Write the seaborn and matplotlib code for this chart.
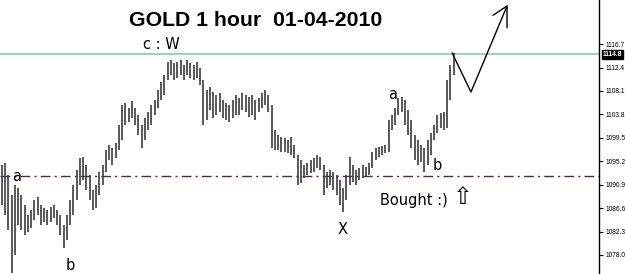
import numpy as np
import pandas as pd
import matplotlib
matplotlib.use("Agg")
import matplotlib.pyplot as plt
import seaborn as sns

# ---- data (hourly bars) ----
highs = [1094.5, 1094.9, 1092.7, 1089.0, 1090.9, 1090.3, 1089.0, 1087.2, 1085.4, 1086.3,
         1088.1, 1088.7, 1087.2, 1086.6, 1086.3, 1086.8, 1087.2, 1086.3, 1085.4, 1083.5,
         1085.4, 1088.1, 1090.9, 1093.6, 1095.8, 1096.0, 1094.5, 1092.7, 1090.0, 1090.9,
         1093.2, 1094.5, 1097.3, 1098.2, 1097.6, 1098.6, 1101.9, 1105.5, 1105.9, 1105.0,
         1106.3, 1105.0, 1103.7, 1101.9, 1103.1, 1104.2, 1105.5, 1106.5, 1108.3, 1109.8,
         1111.0, 1113.4, 1113.8, 1113.2, 1113.4, 1113.8, 1112.9, 1113.8, 1113.2, 1112.9,
         1113.4, 1112.3, 1110.1, 1108.3, 1108.8, 1107.9, 1107.4, 1107.7, 1106.5, 1105.9,
         1105.5, 1106.5, 1107.4, 1106.8, 1107.7, 1107.4, 1107.0, 1107.4, 1106.5, 1106.8,
         1107.7, 1108.3, 1107.4, 1105.5, 1100.9, 1100.0, 1099.7, 1099.5, 1099.1, 1099.7,
         1098.2, 1096.4, 1095.4, 1094.5, 1094.9, 1095.4, 1095.8, 1096.4, 1096.0, 1094.5,
         1093.2, 1093.6, 1093.2, 1092.7, 1091.8, 1090.3, 1092.7, 1096.0, 1094.5, 1093.6,
         1094.0, 1094.5, 1094.2, 1094.9, 1096.9, 1097.6, 1097.8, 1098.0, 1098.2, 1102.8,
         1103.7, 1105.0, 1106.8, 1107.0, 1106.5, 1104.6, 1102.8, 1100.0, 1099.1, 1098.2,
         1097.6, 1099.1, 1100.4, 1101.9, 1103.7, 1104.1, 1104.2, 1110.1, 1112.9, 1115.1]
lows = [1087.2, 1085.4, 1082.6, 1074.7, 1078.0, 1083.5, 1082.6, 1081.7, 1082.2, 1083.0,
        1084.4, 1085.4, 1083.5, 1084.1, 1083.5, 1084.1, 1084.8, 1083.5, 1081.7, 1079.3,
        1080.8, 1083.5, 1085.4, 1088.1, 1090.9, 1091.8, 1090.0, 1088.1, 1086.3, 1086.6,
        1089.0, 1090.9, 1093.2, 1095.4, 1094.5, 1095.8, 1097.3, 1099.1, 1101.9, 1102.4,
        1103.1, 1101.9, 1100.0, 1097.6, 1099.1, 1100.9, 1101.9, 1103.7, 1105.0, 1106.5,
        1107.4, 1110.1, 1111.0, 1110.1, 1110.5, 1111.0, 1110.1, 1111.0, 1110.5, 1110.1,
        1110.5, 1109.2, 1101.9, 1102.8, 1104.6, 1103.1, 1103.7, 1104.2, 1103.1, 1102.8,
        1102.4, 1103.1, 1103.7, 1103.7, 1104.6, 1104.2, 1103.3, 1103.7, 1102.8, 1104.2,
        1105.0, 1105.5, 1104.2, 1097.6, 1097.3, 1097.3, 1096.9, 1096.9, 1096.7, 1096.4,
        1095.8, 1090.9, 1091.2, 1092.1, 1092.7, 1093.1, 1093.2, 1094.0, 1093.6, 1089.0,
        1090.3, 1090.9, 1090.0, 1089.0, 1087.2, 1085.9, 1088.1, 1090.9, 1091.4, 1090.9,
        1091.8, 1092.1, 1092.3, 1092.7, 1094.0, 1095.4, 1096.0, 1096.4, 1096.7, 1096.9,
        1100.9, 1101.9, 1103.7, 1104.2, 1101.9, 1100.0, 1097.6, 1095.4, 1094.5, 1095.1,
        1093.2, 1094.5, 1096.4, 1099.1, 1100.4, 1101.3, 1100.9, 1101.3, 1106.5, 1111.0]

resistance = 1114.8
bought_level = 1092.5
tick_values = [1116.7, 1112.4, 1108.1, 1103.8, 1099.5, 1095.2, 1090.9, 1086.6, 1082.3, 1078.0]
tick_labels = ["1116.7", "1112.4", "1108.1", "1103.8", "1099.5", "1095.2", "1090.9",
               "1086.6", "1082.3", "1078.0"]

# hand-drawn projection path (bar index, price)
proj_x = [138.5, 144.3, 155.4]
proj_y = [1115.1, 1107.9, 1123.7]
arrow_x = [151.1, 155.4, 155.4]
arrow_y = [1122.0, 1123.7, 1119.7]

df = pd.DataFrame({"bar": np.arange(len(highs)), "high": highs, "low": lows})

# ---- figure ----
sns.set_theme(style="white")
plt.rcParams["font.family"] = ["DejaVu Sans"]
plt.rcParams["text.color"] = "black"

fig = plt.figure(figsize=(6.25, 2.74), dpi=100)
ax = fig.add_axes([0, 0, 599 / 625, 1])

ax.vlines(df["bar"], df["low"], df["high"], color="#3c3c3c", linewidth=1.2)

ax.axhline(resistance, color="#86c9b9", linewidth=1.2, zorder=1)
ax.axhline(bought_level, color="#4b2660", linewidth=1.0,
           linestyle=(0, (7, 3, 1.5, 3)), zorder=1)

ax.plot(proj_x, proj_y, color="black", linewidth=1.0)
ax.plot(arrow_x, arrow_y, color="black", linewidth=1.0)

ax.set_xlim(-0.6, 183.7)
ax.set_ylim(1074.5, 1124.8)

for s in ["left", "top", "bottom"]:
    ax.spines[s].set_visible(False)
ax.spines["right"].set_color("black")
ax.spines["right"].set_linewidth(1.0)
ax.set_xticks([])
ax.yaxis.tick_right()
ax.set_yticks(tick_values)
ax.set_yticklabels(tick_labels, family="Liberation Sans")
ax.tick_params(axis="y", direction="out", length=3, width=0.8, colors="black",
               labelsize=4.8, pad=1.5, right=True)

# highlighted current price label
ax.text(1.006, resistance, "1114.8", transform=ax.get_yaxis_transform(),
        fontsize=4.8, family="Liberation Sans", fontweight="bold", color="white",
        va="center", ha="left", clip_on=False,
        bbox=dict(boxstyle="square,pad=0.15", fc="black", ec="black"))

# annotations
lab = dict(fontsize=10.5, color="black", ha="center", va="center")
ax.text(4.6, 1092.4, "a", **lab)
ax.text(20.9, 1076.0, "b", **lab)
ax.text(49.2, 1116.6, "c : W", **lab)
ax.text(104.9, 1082.6, "X", **lab)
ax.text(120.3, 1107.4, "a", **lab)
ax.text(133.8, 1094.5, "b", **lab)
ax.text(116.3, 1088.0, "Bought :)", fontsize=10.5, color="black", ha="left", va="center")
ax.text(141.8, 1088.6, "\u21e7", fontsize=17, color="black", ha="center", va="center")

fig.text(256 / 625, 1 - 20 / 274, "GOLD 1 hour  01-04-2010", fontsize=15.3,
         fontweight="bold", family="Liberation Sans", color="black",
         ha="center", va="center")

fig.savefig("out.png", dpi=100)
